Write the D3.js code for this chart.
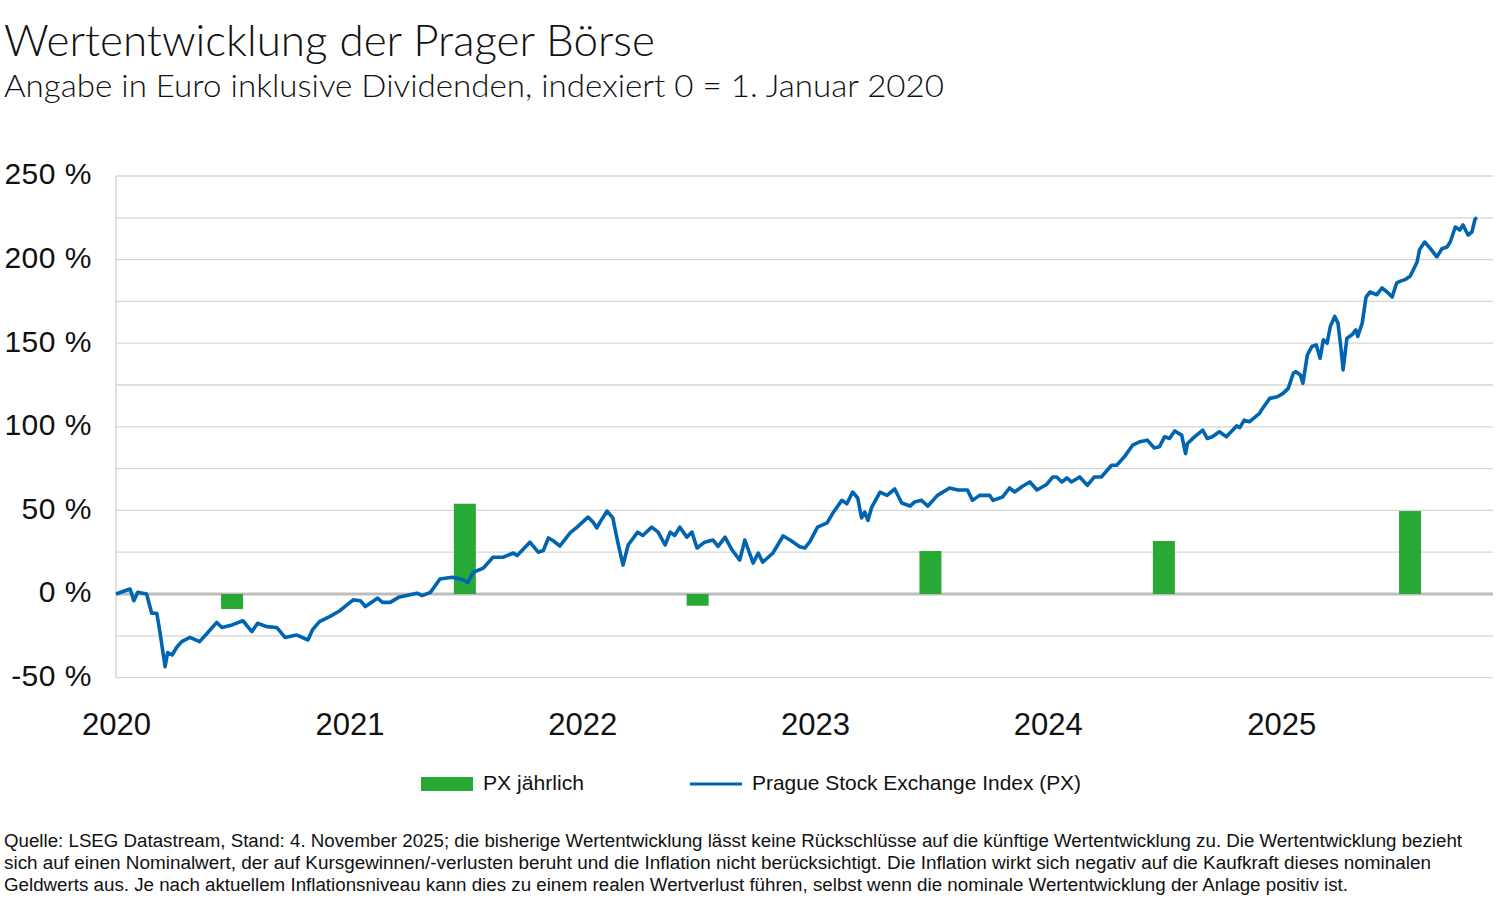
<!DOCTYPE html>
<html>
<head>
<meta charset="utf-8">
<script src="https://cdn.jsdelivr.net/npm/d3@7"></script>
<style>
  body { margin: 0; background: #fff; }
  svg { display: block; }
</style>
</head>
<body>
<svg width="1499" height="898"></svg>
<script>
(function (d3) {
    'use strict';

    // PX index, cumulative performance in %
    const pxSeries = [
        ['2020-01-01', 0], ['2020-01-23', 3], ['2020-01-29', -4], ['2020-02-04', 1], ['2020-02-18', 0],
        ['2020-02-26', -11.5], ['2020-03-05', -11.5], ['2020-03-10', -23], ['2020-03-18', -43.5], ['2020-03-22', -35],
        ['2020-03-29', -36.5], ['2020-04-05', -32], ['2020-04-13', -28.5], ['2020-04-26', -26], ['2020-05-11', -28.5],
        ['2020-05-24', -23], ['2020-06-07', -17], ['2020-06-15', -20], ['2020-07-01', -18.5], ['2020-07-18', -16],
        ['2020-08-01', -22.5], ['2020-08-10', -17.5], ['2020-08-24', -19.5], ['2020-09-09', -20], ['2020-09-22', -26],
        ['2020-10-10', -24.5], ['2020-10-28', -27.5], ['2020-11-04', -21.5], ['2020-11-15', -16.5], ['2020-12-01', -13.5],
        ['2020-12-17', -10],
        ['2021-01-07', -3.5], ['2021-01-18', -4], ['2021-01-26', -7.5], ['2021-02-14', -2.5], ['2021-02-22', -5],
        ['2021-03-06', -5], ['2021-03-19', -2], ['2021-04-17', 0.5], ['2021-04-25', -1], ['2021-05-08', 1],
        ['2021-05-23', 9], ['2021-06-11', 10], ['2021-06-28', 8.5], ['2021-07-06', 7], ['2021-07-14', 13],
        ['2021-07-30', 15.5], ['2021-08-14', 22], ['2021-08-30', 22], ['2021-09-15', 24.5], ['2021-09-21', 23],
        ['2021-10-11', 31], ['2021-10-24', 25], ['2021-11-01', 26], ['2021-11-09', 33.5], ['2021-11-16', 32],
        ['2021-11-27', 28.7], ['2021-12-13', 36.5], ['2021-12-24', 40],
        ['2022-01-10', 46], ['2022-01-18', 43], ['2022-01-24', 39.5], ['2022-01-29', 43], ['2022-02-09', 49.6],
        ['2022-02-18', 45.5], ['2022-02-25', 32.3], ['2022-03-06', 17.3], ['2022-03-14', 29.3], ['2022-03-29', 37],
        ['2022-04-06', 35], ['2022-04-20', 40], ['2022-04-30', 37], ['2022-05-11', 29.3], ['2022-05-19', 37],
        ['2022-05-26', 35], ['2022-06-03', 40], ['2022-06-14', 34], ['2022-06-22', 37], ['2022-06-30', 27.5],
        ['2022-07-12', 31], ['2022-07-25', 32.3], ['2022-08-02', 28.5], ['2022-08-13', 34], ['2022-08-24', 26.3],
        ['2022-09-05', 20.3], ['2022-09-13', 32.3], ['2022-09-26', 18.5], ['2022-10-04', 24.5], ['2022-10-11', 19],
        ['2022-10-27', 24.5], ['2022-11-12', 34.7], ['2022-11-23', 32.3], ['2022-12-08', 28.3], ['2022-12-16', 27.5],
        ['2022-12-24', 31.3],
        ['2023-01-05', 40], ['2023-01-13', 41.3], ['2023-01-20', 42.5], ['2023-01-29', 48.4], ['2023-02-12', 56],
        ['2023-02-20', 54], ['2023-03-01', 61], ['2023-03-09', 57.4], ['2023-03-15', 45.5], ['2023-03-20', 49],
        ['2023-03-25', 44], ['2023-03-31', 52], ['2023-04-13', 61], ['2023-04-24', 59], ['2023-05-06', 62.8],
        ['2023-05-17', 54.4], ['2023-05-30', 52.6], ['2023-06-06', 55], ['2023-06-17', 56], ['2023-06-27', 52.6],
        ['2023-07-05', 56], ['2023-07-12', 59], ['2023-07-31', 63.4], ['2023-08-13', 62.2], ['2023-08-28', 62.2],
        ['2023-09-05', 56], ['2023-09-16', 59], ['2023-10-02', 59], ['2023-10-07', 56], ['2023-10-22', 58],
        ['2023-11-02', 63.4], ['2023-11-10', 61], ['2023-11-23', 64.6], ['2023-12-04', 67], ['2023-12-15', 62.2],
        ['2023-12-30', 65.5],
        ['2024-01-09', 70], ['2024-01-15', 70], ['2024-01-23', 67], ['2024-01-31', 69.4], ['2024-02-07', 67],
        ['2024-02-20', 70], ['2024-03-03', 65], ['2024-03-14', 70], ['2024-03-25', 70], ['2024-04-10', 77],
        ['2024-04-18', 77], ['2024-04-30', 82], ['2024-05-13', 89], ['2024-05-24', 91], ['2024-06-05', 92],
        ['2024-06-16', 87.3], ['2024-06-24', 88], ['2024-07-02', 94], ['2024-07-10', 93], ['2024-07-18', 97.5],
        ['2024-07-29', 95], ['2024-08-04', 84], ['2024-08-07', 90], ['2024-08-18', 94], ['2024-08-31', 98],
        ['2024-09-07', 93], ['2024-09-15', 94], ['2024-09-26', 97], ['2024-10-07', 94], ['2024-10-23', 100.5],
        ['2024-10-28', 99.5], ['2024-11-04', 104], ['2024-11-12', 103], ['2024-11-28', 108], ['2024-12-01', 110],
        ['2024-12-14', 117], ['2024-12-26', 118],
        ['2025-01-04', 120], ['2025-01-12', 123], ['2025-01-20', 132], ['2025-01-24', 133], ['2025-01-31', 131],
        ['2025-02-04', 126], ['2025-02-11', 143], ['2025-02-18', 148], ['2025-02-25', 149], ['2025-03-03', 141],
        ['2025-03-08', 152], ['2025-03-14', 150], ['2025-03-19', 160], ['2025-03-26', 166], ['2025-03-31', 162],
        ['2025-04-05', 146], ['2025-04-08', 134], ['2025-04-14', 153], ['2025-04-22', 155], ['2025-04-28', 158],
        ['2025-05-01', 154], ['2025-05-08', 162], ['2025-05-14', 177.6], ['2025-05-20', 180.6], ['2025-05-31', 179],
        ['2025-06-08', 183], ['2025-06-16', 180.6], ['2025-06-24', 177.6], ['2025-07-01', 186], ['2025-07-06', 187],
        ['2025-07-14', 188], ['2025-07-22', 190], ['2025-07-27', 193.8], ['2025-08-02', 198.6], ['2025-08-06', 206],
        ['2025-08-14', 210.5], ['2025-08-22', 207], ['2025-09-02', 201.6], ['2025-09-10', 206.5], ['2025-09-18', 207.5],
        ['2025-09-23', 210.5], ['2025-10-01', 219.5], ['2025-10-08', 217.7], ['2025-10-13', 220.7], ['2025-10-21', 214.7],
        ['2025-10-27', 216.5], ['2025-11-01', 224.3], ['2025-11-04', 225]
    ];

    // yearly returns (bars)
    const barYears = ['2020', '2021', '2022', '2023', '2024', '2025'];
    const barDates = ['2020-07-01', '2021-07-01', '2022-07-01', '2023-07-01', '2024-07-01', '2025-07-22'];
    const barValues = [-9, 54, -7, 25.7, 31.7, 49.6];

    const yTicks = [-50, 0, 50, 100, 150, 200, 250];
    const yGrid = d3.range(-50, 251, 25);

    const legendLabels = ['PX jährlich', 'Prague Stock Exchange Index (PX)'];

    const footerLines = [
        'Quelle: LSEG Datastream, Stand: 4. November 2025; die bisherige Wertentwicklung lässt keine Rückschlüsse auf die künftige Wertentwicklung zu. Die Wertentwicklung bezieht',
        'sich auf einen Nominalwert, der auf Kursgewinnen/-verlusten beruht und die Inflation nicht berücksichtigt. Die Inflation wirkt sich negativ auf die Kaufkraft dieses nominalen',
        'Geldwerts aus. Je nach aktuellem Inflationsniveau kann dies zu einem realen Wertverlust führen, selbst wenn die nominale Wertentwicklung der Anlage positiv ist.'
    ];
    const footerWidths = [1458, 1427, 1344];

    const blue = '#0065b1';
    const green = '#28a835';
    const parse = d3.timeParse('%Y-%m-%d');

    const svg = d3.select('svg');

    const left = 116, right = 1493, top = 176, bottom = 677.6;

    const x = d3.scaleTime()
        .domain([parse('2020-01-01'), parse('2026-01-01')])
        .range([left, left + 6 * 233]);

    const y = d3.scaleLinear()
        .domain([-50, 250])
        .range([bottom, top]);

    // title + subtitle
    svg.append('text')
        .attr('x', 4).attr('y', 56)
        .attr('font-family', 'Lato, "Open Sans", sans-serif')
        .attr('font-weight', 300)
        .attr('font-size', 43)
        .attr('fill', '#111')
        .attr('textLength', 651)
        .attr('lengthAdjust', 'spacingAndGlyphs')
        .text('Wertentwicklung der Prager Börse');

    svg.append('text')
        .attr('x', 4).attr('y', 97)
        .attr('font-family', 'Lato, "Open Sans", sans-serif')
        .attr('font-weight', 300)
        .attr('font-size', 32)
        .attr('fill', '#111')
        .attr('textLength', 940)
        .attr('lengthAdjust', 'spacingAndGlyphs')
        .text('Angabe in Euro inklusive Dividenden, indexiert 0 = 1. Januar 2020');

    // gridlines
    svg.append('g')
        .selectAll('line')
        .data(yGrid)
        .join('line')
        .attr('x1', left).attr('x2', right)
        .attr('y1', d => y(d)).attr('y2', d => y(d))
        .attr('stroke', d => d === 0 ? '#bdbdbd' : '#d6d6d6')
        .attr('stroke-width', d => d === 0 ? 3 : 1.3);

    svg.append('line')
        .attr('x1', left).attr('x2', left)
        .attr('y1', top).attr('y2', bottom)
        .attr('stroke', '#d6d6d6')
        .attr('stroke-width', 1.5);

    // y labels
    svg.append('g')
        .selectAll('text')
        .data(yTicks)
        .join('text')
        .attr('x', 92)
        .attr('y', d => y(d))
        .attr('dy', '0.28em')
        .attr('text-anchor', 'end')
        .attr('font-family', '"Liberation Sans", Arial, sans-serif')
        .attr('font-size', 30)
        .attr('letter-spacing', 0.5)
        .attr('fill', '#111')
        .text(d => d + ' %');

    // x axis
    const xAxis = d3.axisBottom(x)
        .ticks(d3.timeYear.every(1))
        .tickFormat(d3.timeFormat('%Y'))
        .tickSize(0)
        .tickPadding(0);

    const xg = svg.append('g')
        .attr('transform', `translate(0, 735)`)
        .call(xAxis);
    xg.select('.domain').remove();
    xg.selectAll('text')
        .filter(d => d.getFullYear() > 2025)
        .remove();
    xg.selectAll('text')
        .attr('dy', 0)
        .attr('font-family', '"Liberation Sans", Arial, sans-serif')
        .attr('font-size', 31)
        .attr('fill', '#111');

    // yearly bars
    const bw = 22;
    svg.append('g')
        .selectAll('rect')
        .data(barValues)
        .join('rect')
        .attr('x', (d, i) => x(parse(barDates[i])) - bw / 2)
        .attr('y', d => y(Math.max(0, d)))
        .attr('width', bw)
        .attr('height', d => Math.abs(y(d) - y(0)))
        .attr('fill', green)
        .append('title').text((d, i) => barYears[i] + ': ' + d + ' %');

    // index line
    const line = d3.line()
        .x(d => x(parse(d[0])))
        .y(d => y(d[1]));

    svg.append('path')
        .datum(pxSeries)
        .attr('d', line)
        .attr('fill', 'none')
        .attr('stroke', blue)
        .attr('stroke-width', 3.6)
        .attr('stroke-linejoin', 'round');

    // legend
    const legend = svg.append('g');
    legend.append('rect')
        .attr('x', 421).attr('y', 777)
        .attr('width', 52).attr('height', 14)
        .attr('fill', green);
    legend.append('text')
        .attr('x', 483).attr('y', 790)
        .attr('font-family', '"Liberation Sans", Arial, sans-serif')
        .attr('font-size', 21)
        .attr('fill', '#111')
        .attr('textLength', 101)
        .attr('lengthAdjust', 'spacingAndGlyphs')
        .text(legendLabels[0]);
    legend.append('line')
        .attr('x1', 690).attr('x2', 742)
        .attr('y1', 784).attr('y2', 784)
        .attr('stroke', blue)
        .attr('stroke-width', 3);
    legend.append('text')
        .attr('x', 752).attr('y', 790)
        .attr('font-family', '"Liberation Sans", Arial, sans-serif')
        .attr('font-size', 21)
        .attr('fill', '#111')
        .attr('textLength', 329)
        .attr('lengthAdjust', 'spacingAndGlyphs')
        .text(legendLabels[1]);

    // footer
    svg.append('g')
        .selectAll('text')
        .data(footerLines)
        .join('text')
        .attr('x', 4)
        .attr('y', (d, i) => 847 + i * 22)
        .attr('font-family', '"Liberation Sans", Arial, sans-serif')
        .attr('font-size', 18)
        .attr('fill', '#111')
        .attr('textLength', (d, i) => footerWidths[i])
        .attr('lengthAdjust', 'spacingAndGlyphs')
        .text(d => d);

}(d3));
</script>
</body>
</html>
